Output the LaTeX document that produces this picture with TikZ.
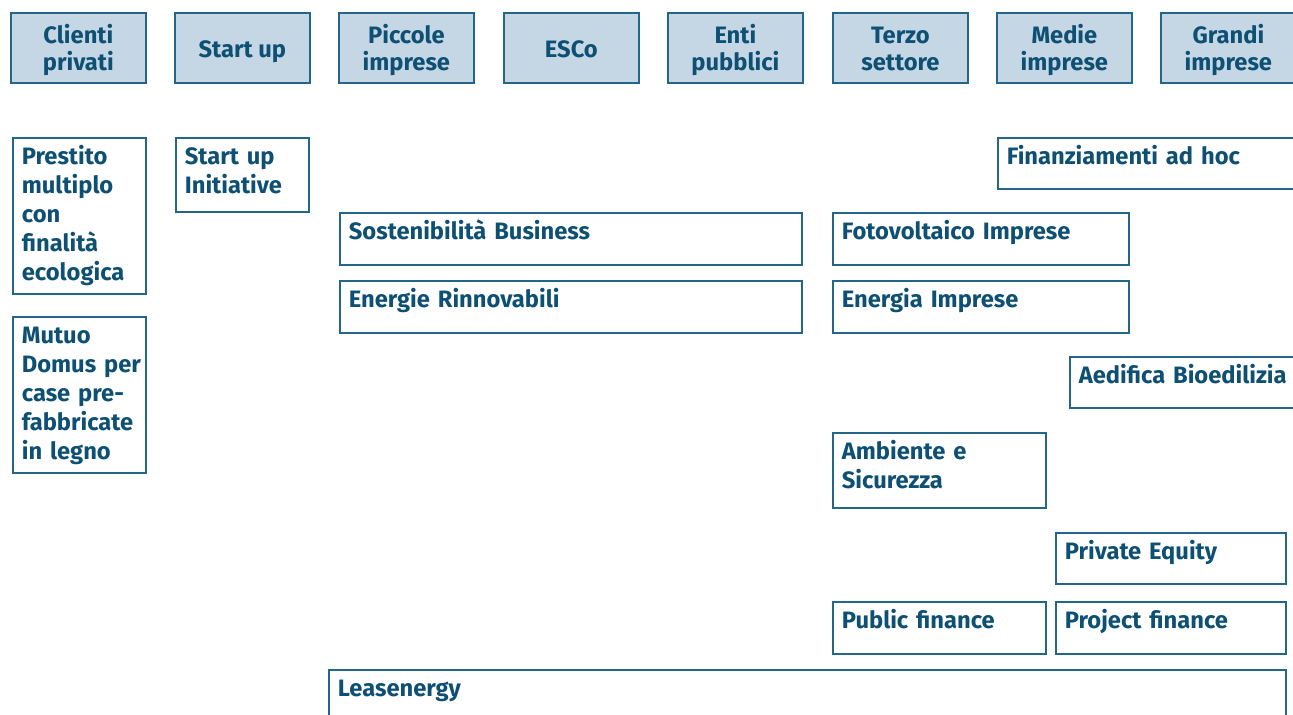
\documentclass[tikz,border=0pt]{standalone}
\usepackage{fontspec}
\setmainfont{Fira Sans}
\definecolor{blu}{HTML}{0E5073}
\definecolor{bordo}{HTML}{24668A}
\definecolor{fondo}{HTML}{C5D6E4}
\newcommand{\pxl}{0.02cm}
\tikzset{
  cat/.style={draw=bordo,line width=1pt,fill=fondo,text=blu,anchor=north west,
    minimum width=135*\pxl,align=center,inner sep=0pt,
    text height=#1*\pxl,text depth=(70-#1)*\pxl,
    font=\fontsize{13.5pt}{15.4pt}\selectfont\bfseries},
  voce/.style 2 args={draw=bordo,line width=1pt,fill=white,text=blu,anchor=north west,
    text width=(#1-18)*\pxl,inner xsep=9*\pxl,inner ysep=0pt,
    text height=27*\pxl,text depth=(#2-27)*\pxl,align=left,
    font=\fontsize{13.5pt}{16.5pt}\selectfont\bfseries}
}
\begin{document}
\begin{tikzpicture}[x=0.02cm,y=-0.02cm]
  \useasboundingbox (0,0) rectangle (1293,715);
  %Categories
  \foreach \x/\nome/\alto/\testo in {10/clienti/58/{Clienti\\privati},174/startup/45/{Start up},
      338/piccole/58/{Piccole\\imprese},503/esco/45/{ESCo},667/enti/58/{Enti\\pubblici},
      832/terzo/58/{Terzo\\settore},996/medie/58/{Medie\\imprese},1160/grandi/58/{Grandi\\imprese}}
    {
      \node[cat=\alto] (\nome) at (\x,12) {\testo};
    }
  %Products
  \node[voce={133}{156}] (prestito) at (12,137) {Prestito\\multiplo\\con\\finalità\\ecologica};
  \node[voce={133}{156}] (mutuo) at (12,316) {Mutuo\\Domus~per\\case pre-\\fabbricate\\in legno};
  \node[voce={133}{74}] (initiative) at (175,137) {Start up\\Initiative};
  \node[voce={300}{51}] (adhoc) at (997,137) {Finanziamenti ad hoc};
  \node[voce={462}{52}] (sostenibilita) at (339,212) {Sostenibilità Business};
  \node[voce={296}{52}] (fotovoltaico) at (832,212) {Fotovoltaico Imprese};
  \node[voce={462}{52}] (rinnovabili) at (339,280) {Energie Rinnovabili};
  \node[voce={296}{52}] (energia) at (832,280) {Energia Imprese};
  \node[voce={230}{51}] (aedifica) at (1069,356) {Aedifica Bioedilizia};
  \node[voce={213}{75}] (ambiente) at (832,432) {Ambiente e\\Sicurezza};
  \node[voce={230}{51}] (equity) at (1055,532) {Private Equity};
  \node[voce={213}{52}] (public) at (832,601) {Public finance};
  \node[voce={230}{52}] (project) at (1055,601) {Project finance};
  \node[voce={957}{60}] (leasenergy) at (328,669) {Leasenergy};
\end{tikzpicture}
\end{document}
